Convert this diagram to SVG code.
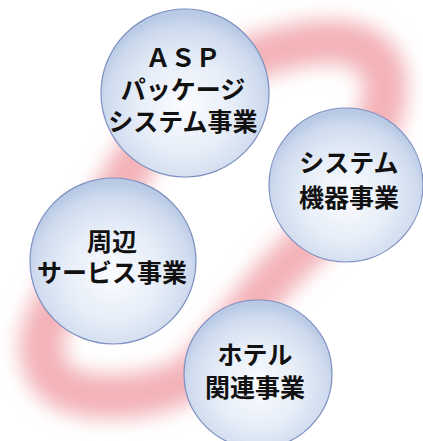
<svg xmlns="http://www.w3.org/2000/svg" width="423" height="441" viewBox="0 0 423 441">
<style>
.ball{stroke:#7d8fc0;stroke-width:1.2;fill:url(#bg)}
.lbl{font-family:"Noto Sans CJK JP","Noto Sans CJK SC",sans-serif;font-weight:700;font-size:25px;fill:#111;text-anchor:middle}
</style>
<defs>
<radialGradient id="bg" cx="50%" cy="58%" r="55%">
<stop offset="0" stop-color="#fbfcff"/>
<stop offset="0.5" stop-color="#e7eef8"/>
<stop offset="0.85" stop-color="#cfdbee"/>
<stop offset="1" stop-color="#b9cae6"/>
</radialGradient>
<filter id="blur" x="-25%" y="-25%" width="150%" height="150%">
<feGaussianBlur stdDeviation="10"/>
</filter>
</defs>
<rect width="423" height="441" fill="#fff"/>
<g id="connectors">
<path d="M 130 168 C 170 100, 220 60, 300 45 C 360 33, 397 55, 382 110 C 367 160, 342 215, 302 250 C 262 285, 232 335, 195 374 C 165 395, 110 402, 75 392 C 40 382, 35 345, 48 320 C 70 270, 100 220, 130 168 Z" fill="none" stroke="#f3b2b8" stroke-width="44" stroke-linejoin="round" filter="url(#blur)"/>
</g>
<g id="asp">
<circle class="ball" cx="185" cy="93" r="84"/>
<text class="lbl" x="183" y="67">ＡＳＰ</text>
<text class="lbl" x="183" y="99">パッケージ</text>
<text class="lbl" x="183" y="131">システム事業</text>
</g>
<g id="kiki">
<circle class="ball" cx="346" cy="185" r="77"/>
<text class="lbl" x="349" y="172">システム</text>
<text class="lbl" x="349" y="207">機器事業</text>
</g>
<g id="shuhen">
<circle class="ball" cx="113" cy="261" r="83"/>
<text class="lbl" x="112" y="251">周辺</text>
<text class="lbl" x="112" y="282">サービス事業</text>
</g>
<g id="hotel">
<circle class="ball" cx="258" cy="374" r="74"/>
<text class="lbl" x="255" y="364">ホテル</text>
<text class="lbl" x="255" y="397">関連事業</text>
</g>
</svg>
